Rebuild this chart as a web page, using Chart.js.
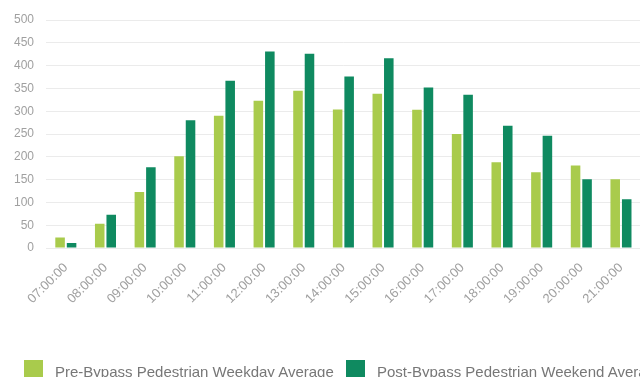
<!DOCTYPE html>
<html>
<head>
<meta charset="utf-8">
<script src="https://cdn.jsdelivr.net/npm/chart.js@4/dist/chart.umd.min.js"></script>
<style>
  html, body { margin: 0; padding: 0; background: #fff; overflow: hidden; width: 640px; height: 377px; }
  #wrap { position: absolute; left: 0; top: 0; width: 644px; height: 390px; }
  #legend { position: absolute; left: 0; top: 360px; width: 700px; height: 30px; font-family: "Liberation Sans", Arial, sans-serif; font-size: 15px; color: #777; }
  .item { position: absolute; top: 0; white-space: nowrap; }
  .box { position: absolute; top: 0; width: 19px; height: 20px; }
  .lbl { position: absolute; top: 3px; }
</style>
</head>
<body>
<div id="wrap"><canvas id="c" width="644" height="390"></canvas></div>
<div id="legend"></div>
<script>
// Hourly pedestrian counts, 07:00 to 21:00
const hours = ["07:00:00", "08:00:00", "09:00:00", "10:00:00", "11:00:00", "12:00:00", "13:00:00", "14:00:00",
               "15:00:00", "16:00:00", "17:00:00", "18:00:00", "19:00:00", "20:00:00", "21:00:00"];
const preBypassWeekday = [23, 53, 123, 201, 290, 323, 345, 304, 338, 303, 250, 188, 166, 181, 151];
const postBypassWeekend = [11, 73, 177, 280, 367, 431, 426, 376, 416, 352, 336, 268, 246, 151, 107];
const seriesNames = ["Pre-Bypass Pedestrian Weekday Average", "Post-Bypass Pedestrian Weekend Average"];
const yTicks = [0, 50, 100, 150, 200, 250, 300, 350, 400, 450, 500];

const lightGreen = "#a9cb4c";
const darkGreen = "#0f8a60";
const font = "'Liberation Sans', Arial, sans-serif";

new Chart(document.getElementById("c"), {
  type: "bar",
  data: {
    labels: hours,
    datasets: [
      { label: seriesNames[0], data: preBypassWeekday, backgroundColor: lightGreen, barPercentage: 0.83, categoryPercentage: 0.58 },
      { label: seriesNames[1], data: postBypassWeekend, backgroundColor: darkGreen, barPercentage: 0.83, categoryPercentage: 0.58 }
    ]
  },
  options: {
    responsive: false,
    animation: false,
    layout: { padding: { top: 20, left: 0, right: 0, bottom: 0 } },
    plugins: { legend: { display: false }, tooltip: { enabled: false } },
    scales: {
      x: {
        grid: { display: false, drawTicks: false },
        border: { display: false },
        ticks: { minRotation: 45, maxRotation: 45, padding: 12, color: "#a0a0a0", font: { family: font, size: 13 } },
        afterFit: (s) => { s.height = 142; }
      },
      y: {
        min: 0, max: 500,
        afterBuildTicks: (s) => { s.ticks = yTicks.map(v => ({ value: v })); },
        grid: { color: "#ebebeb", lineWidth: 1, drawTicks: false },
        border: { display: false },
        ticks: { padding: 12, color: "#a0a0a0", font: { family: font, size: 12 } },
        afterFit: (s) => { s.width = 46; }
      }
    }
  }
});

// Legend row beneath the chart
const legend = document.getElementById("legend");
const colors = [lightGreen, darkGreen];
const boxX = [24, 346];
seriesNames.forEach((name, i) => {
  const item = document.createElement("div");
  item.className = "item";
  item.style.left = boxX[i] + "px";
  const box = document.createElement("div");
  box.className = "box";
  box.style.left = "0px";
  box.style.background = colors[i];
  const lbl = document.createElement("div");
  lbl.className = "lbl";
  lbl.style.left = "31px";
  lbl.textContent = name;
  item.appendChild(box);
  item.appendChild(lbl);
  legend.appendChild(item);
});
</script>
</body>
</html>
